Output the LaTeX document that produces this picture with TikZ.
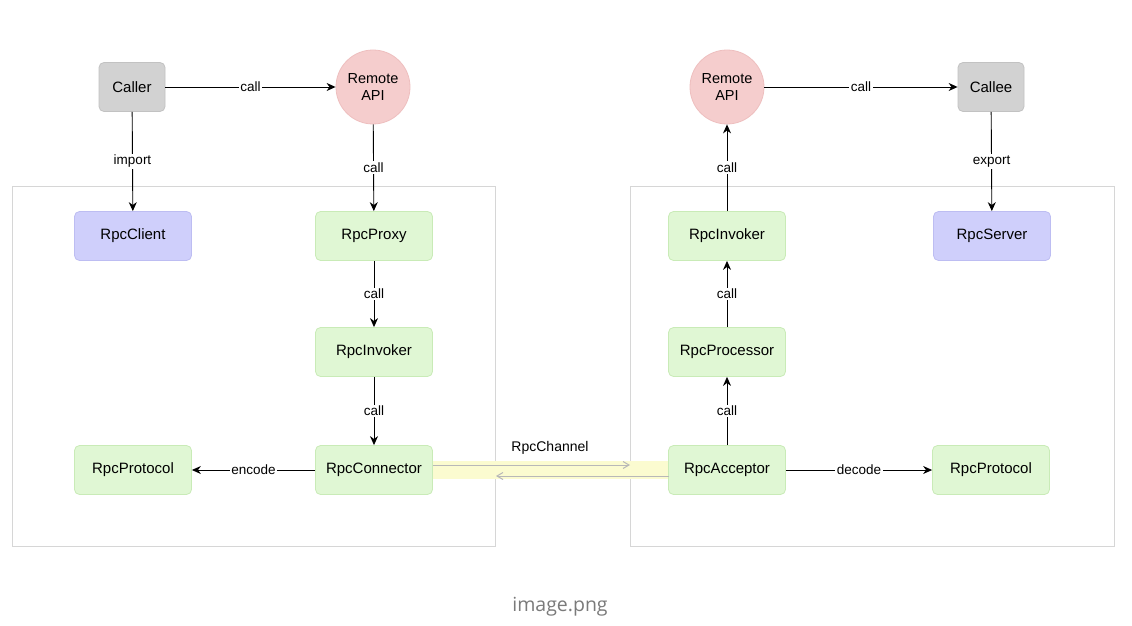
\documentclass[tikz,border=0pt]{standalone}
\usepackage{fontspec}
\setmainfont{Liberation Sans}
\newfontfamily\captionfont{Open Sans}
\usetikzlibrary{arrows.meta}
\definecolor{boxline}{HTML}{D6D6D6}
\definecolor{grayfill}{HTML}{D2D2D2}
\definecolor{grayline}{HTML}{C2C2C2}
\definecolor{pinkfill}{HTML}{F5CDCD}
\definecolor{pinkline}{HTML}{EEBFBF}
\definecolor{bluefill}{HTML}{CFCFFB}
\definecolor{blueline}{HTML}{BDBDF2}
\definecolor{greenfill}{HTML}{E0F7D4}
\definecolor{greenline}{HTML}{C9EBB7}
\definecolor{chanfill}{HTML}{FBFBD0}
\definecolor{chanarrow}{HTML}{B8B8B8}
\definecolor{captioncol}{HTML}{7A7A7A}
\tikzset{
  x=1pt, y=-1pt,
  base/.style={rounded corners=5pt, line width=0.8pt, minimum width=117pt, minimum height=49pt, font=\fontsize{15}{17}\selectfont, inner sep=0pt},
  actor/.style={base, fill=grayfill, draw=grayline, minimum width=66pt},
  client/.style={base, fill=bluefill, draw=blueline},
  comp/.style={base, fill=greenfill, draw=greenline},
  api/.style={circle, fill=pinkfill, draw=pinkline, line width=0.8pt, minimum size=74pt, inner sep=0pt, align=center, font=\fontsize{14.5}{17.5}\selectfont},
  container/.style={draw=boxline, line width=0.9pt},
  flow/.style={draw=black, line width=0.9pt, -{Stealth[length=9pt,width=8pt]}},
  lbl/.style={fill=white, inner sep=1.5pt, font=\fontsize{13.5}{15}\selectfont},
  chan/.style={draw=chanarrow, line width=1pt, -{Straight Barb[length=6pt,width=7pt]}}
}
\begin{document}
\begin{tikzpicture}
\useasboundingbox (0,0) rectangle (1132,626);
\fill[white] (0,0) rectangle (1132,626);

% client and server containers
\draw[container] (12,186) rectangle (495,546);
\draw[container] (630,186) rectangle (1114,546);

% channel band between connector and acceptor
\fill[chanfill] (433,461) rectangle (669,479);

% client side
\node[actor] (caller) at (132,87) {Caller};
\node[api] (apiL) at (373,87) {Remote\\API};
\node[client] (client) at (133,236) {RpcClient};
\node[comp] (proxy) at (374,236) {RpcProxy};
\node[comp] (invokerL) at (374,352) {RpcInvoker};
\node[comp] (connector) at (374,470) {RpcConnector};
\node[comp] (protoL) at (133,470) {RpcProtocol};

% server side
\node[api] (apiR) at (727,87) {Remote\\API};
\node[actor] (callee) at (991,87) {Callee};
\node[comp] (invokerR) at (727,236) {RpcInvoker};
\node[client] (server) at (992,236) {RpcServer};
\node[comp] (processor) at (727,352) {RpcProcessor};
\node[comp] (acceptor) at (727,470) {RpcAcceptor};
\node[comp] (protoR) at (991,470) {RpcProtocol};

% channel direction marks
\coordinate (chA) at (433,465);
\coordinate (chB) at (630,465);
\coordinate (chC) at (669,476);
\coordinate (chD) at (496,476);
\draw[chan] (chA) -- (chB);
\draw[chan] (chC) -- (chD);
\node[font=\fontsize{14}{16}\selectfont] (chlabel) at (550,448) {RpcChannel};

% client-side calls
\draw[flow] (caller) -- node[lbl] {call} (apiL);
\draw[flow] (caller) -- node[lbl] {import} (client);
\draw[flow] (apiL) -- node[lbl] {call} (proxy);
\draw[flow] (proxy) -- node[lbl] {call} (invokerL);
\draw[flow] (invokerL) -- node[lbl] {call} (connector);
\draw[flow] (connector) -- node[lbl] {encode} (protoL);

% server-side calls
\draw[flow] (apiR) -- node[lbl] {call} (callee);
\draw[flow] (callee) -- node[lbl] {export} (server);
\draw[flow] (invokerR) -- node[lbl] {call} (apiR);
\draw[flow] (processor) -- node[lbl] {call} (invokerR);
\draw[flow] (acceptor) -- node[lbl] {call} (processor);
\draw[flow] (acceptor) -- node[lbl] {decode} (protoR);

% caption
\node[text=captioncol, font=\captionfont\fontsize{19.5}{22}\selectfont] (caption) at (560,607) {image.png};
\end{tikzpicture}
\end{document}
